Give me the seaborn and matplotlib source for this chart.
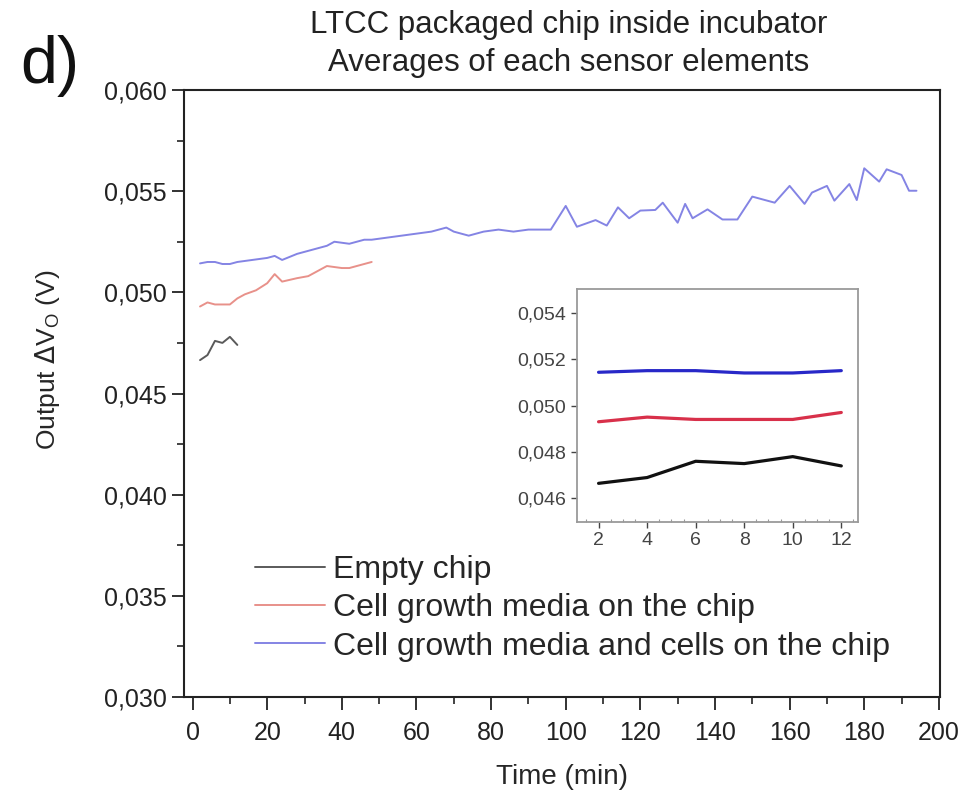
import matplotlib
matplotlib.use("Agg")
import matplotlib.pyplot as plt
import seaborn as sns
import pandas as pd
from matplotlib.ticker import MultipleLocator, FuncFormatter

# ---- data ----
empty_t = [2, 4, 6, 8, 10, 12]
empty_v = [0.04665, 0.0469, 0.0476, 0.0475, 0.0478, 0.0474]

media_t = [2, 4, 6, 8, 10, 12, 14, 17, 20, 22, 24, 28, 31, 34, 36, 40, 42, 46, 48]
media_v = [0.0493, 0.0495, 0.0494, 0.0494, 0.0494, 0.0497, 0.0499, 0.0501, 0.05045,
           0.0509, 0.05053, 0.0507, 0.0508, 0.0511, 0.0513, 0.0512, 0.0512, 0.0514, 0.0515]

cells_t = [2, 4, 6, 8, 10, 12, 16, 20, 22, 24, 28, 32, 36, 38, 42, 46, 48, 52, 56, 60,
           64, 68, 70, 74, 78, 82, 86, 90, 94, 96, 100, 103, 108, 111, 114, 117, 120,
           124, 126, 130, 132, 134, 138, 142, 146, 150, 156, 160, 164, 166, 170, 172,
           176, 178, 180, 184, 186, 190, 192, 194]
cells_v = [0.05143, 0.0515, 0.0515, 0.0514, 0.0514, 0.0515, 0.0516, 0.0517, 0.0518,
           0.0516, 0.0519, 0.0521, 0.0523, 0.0525, 0.0524, 0.0526, 0.0526, 0.0527,
           0.0528, 0.0529, 0.0530, 0.0532, 0.0530, 0.0528, 0.0530, 0.0531, 0.0530,
           0.0531, 0.0531, 0.0531, 0.05427, 0.05324, 0.05357, 0.0533, 0.0542, 0.05366,
           0.05404, 0.05407, 0.05443, 0.05344, 0.05437, 0.05366, 0.0541, 0.0536,
           0.0536, 0.05473, 0.05443, 0.05526, 0.05437, 0.05493, 0.05526, 0.05453,
           0.05535, 0.05456, 0.05613, 0.05547, 0.05608, 0.0558, 0.05502, 0.05502]

labels = ["Empty chip", "Cell growth media on the chip",
          "Cell growth media and cells on the chip"]

df = pd.concat([
    pd.DataFrame({"t": empty_t, "v": empty_v, "s": labels[0]}),
    pd.DataFrame({"t": media_t, "v": media_v, "s": labels[1]}),
    pd.DataFrame({"t": cells_t, "v": cells_v, "s": labels[2]}),
], ignore_index=True)
df_in = df[df["t"] <= 12]

sns.set_style("ticks")
plt.rcParams["font.family"] = ["Liberation Sans", "DejaVu Sans"]

fig = plt.figure(figsize=(9.75, 7.92), dpi=100)
ax = fig.add_axes([0.1887, 0.1199, 0.7754, 0.7665])

main_pal = {labels[0]: "#5a5a5a", labels[1]: "#e8918a", labels[2]: "#8484e4"}
sns.lineplot(data=df, x="t", y="v", hue="s", palette=main_pal, sort=False,
             estimator=None, linewidth=1.4, ax=ax)

ax.set_xlim(-2.3, 200.3)
ax.set_ylim(0.030, 0.060)
ax.xaxis.set_major_locator(MultipleLocator(20))
ax.xaxis.set_minor_locator(MultipleLocator(10))
ax.yaxis.set_major_locator(MultipleLocator(0.005))
ax.yaxis.set_minor_locator(MultipleLocator(0.0025))
ax.yaxis.set_major_formatter(FuncFormatter(lambda v, p: f"{v:.3f}".replace(".", ",")))
ax.tick_params(which="major", direction="out", length=9, width=1.3, labelsize=18,
               colors="#222222")
ax.tick_params(axis="x", which="major", pad=8)
ax.tick_params(which="minor", direction="out", length=5, width=1.2, colors="#222222")
for sp in ax.spines.values():
    sp.set_visible(True)
    sp.set_linewidth(1.5)
    sp.set_color("#222222")
ax.set_xlabel("Time (min)", fontsize=20, labelpad=14)
ax.set_ylabel(r"Output $\Delta$V$_\mathregular{O}$ (V)", fontsize=19)
ax.yaxis.set_label_coords(-0.161, 0.555)

ax.legend(loc="upper left", bbox_to_anchor=(255 / 975, 1 - 555 / 792),
          bbox_transform=fig.transFigure, frameon=False, fontsize=23,
          handlelength=2.2, handletextpad=0.25, labelspacing=0.26,
          borderpad=0, borderaxespad=0)

fig.text(0.583, 1 - 44 / 792, "LTCC packaged chip inside incubator\nAverages of each sensor elements",
         ha="center", va="center", fontsize=22.5, linespacing=1.35, color="#222222")
fig.text(20 / 975, 1 - 66 / 792, "d)", fontsize=48, ha="left", va="center", color="#111111")

# ---- inset ----
axin = fig.add_axes([0.5915, 0.3413, 0.2888, 0.2934])
in_pal = {labels[0]: "#111111", labels[1]: "#d8304a", labels[2]: "#2828c8"}
sns.lineplot(data=df_in, x="t", y="v", hue="s", palette=in_pal, sort=False,
             estimator=None, linewidth=2.3, ax=axin, legend=False)
axin.set_xlim(1.1, 12.7)
axin.set_ylim(0.045, 0.055)
axin.xaxis.set_major_locator(MultipleLocator(2))
axin.xaxis.set_minor_locator(MultipleLocator(0.5))
axin.yaxis.set_major_locator(MultipleLocator(0.002))
axin.yaxis.set_major_formatter(FuncFormatter(lambda v, p: f"{v:.3f}".replace(".", ",")))
axin.tick_params(which="major", direction="out", length=4, width=1, labelsize=14,
                 colors="#444444")
axin.tick_params(which="minor", direction="in", length=2, width=0.8, colors="#999999")
for sp in axin.spines.values():
    sp.set_visible(True)
    sp.set_linewidth(1.3)
    sp.set_color("#9a9a9a")
axin.set_xlabel("")
axin.set_ylabel("")

fig.savefig("out.png", dpi=100)
